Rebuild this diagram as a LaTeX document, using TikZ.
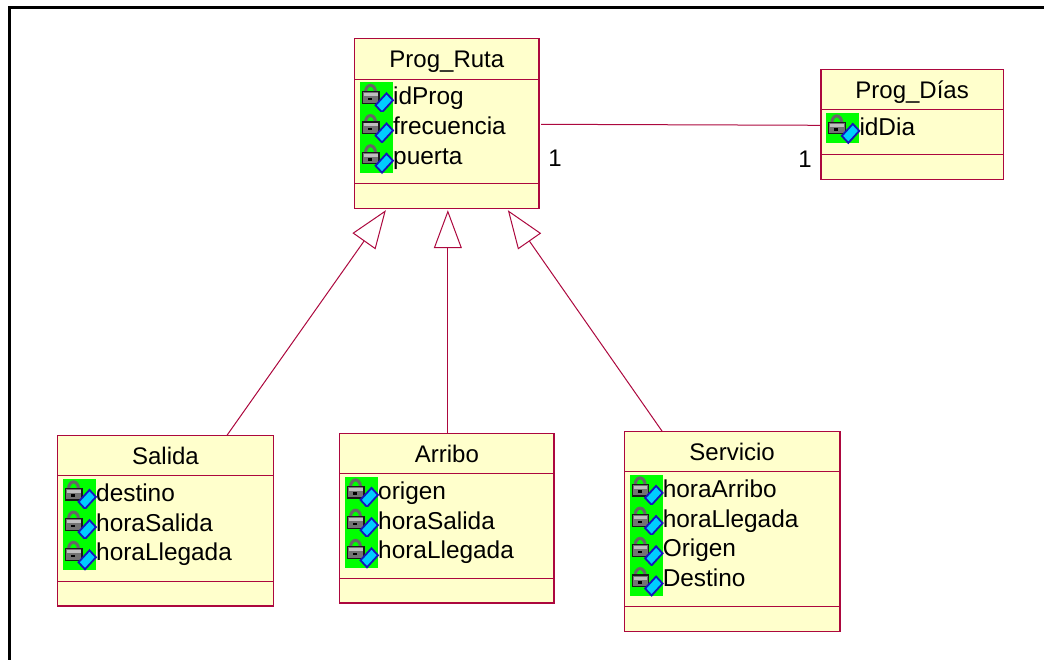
\documentclass[tikz,border=0pt]{standalone}
\usepackage{fontspec}
\setmainfont{Liberation Sans}
\usepackage{tikz}
\usetikzlibrary{arrows.meta,calc}
\definecolor{umlline}{RGB}{172,8,62}
\definecolor{umlfill}{RGB}{255,255,204}
\definecolor{keygreen}{RGB}{0,255,0}
\definecolor{keyblue}{RGB}{0,205,255}
\definecolor{keyedge}{RGB}{20,20,190}
\tikzstyle{classbox}=[draw=umlline,fill=umlfill,line width=1.1pt,inner sep=0pt,outer sep=0pt,anchor=north west]
\tikzstyle{classtitle}=[anchor=base,inner sep=0pt,font=\fontsize{24}{28}\selectfont]
\tikzstyle{attrkey}=[fill=keygreen,minimum width=33pt,minimum height=30.2pt,inner sep=0pt,outer sep=0pt,anchor=north west]
\tikzstyle{attrname}=[anchor=base west,inner sep=0pt,font=\fontsize{24.4}{28}\selectfont]
\tikzstyle{mult}=[inner sep=0pt,font=\fontsize{24}{28}\selectfont]
\tikzstyle{assoc}=[draw=umlline,line width=1pt]
\tikzstyle{inherit}=[draw=umlline,line width=1pt,-{Triangle[open,length=38pt,width=28pt,fill=white]}]
\tikzset{lockkey/.pic={
    \draw[black!60,line width=3pt] (5.5,10) arc (180:360:5 and 7);
    \fill[black!55,draw=black!90,line width=1.2pt] (2.5,9.5) rectangle (19,21);
    \fill[black!25] (4,11) rectangle (17.5,14);
    \fill[black] (8,15.5) rectangle (12,18);
    \draw[fill=keyblue,draw=keyedge,line width=1.8pt] (15.5,23) -- (22,30) -- (33,18) -- (26.5,11) -- cycle;
}}

\begin{document}
\begin{tikzpicture}[x=1pt,y=-1pt]
      \useasboundingbox (0,0) rectangle (1044,660);
      \draw[black,line width=3pt] (9.5,660) -- (9.5,7.5) -- (1044,7.5);

      \foreach \id/\nm/\x/\y/\w/\h in {ruta/Prog\_Ruta/354.7/38.7/184.3/170,
          dias/Prog\_Días/821/69.3/182.3/110,
          salida/Salida/57.7/435.3/215.6/170.7,
          arribo/Arribo/339.7/433.3/214.3/169.7,
          servicio/Servicio/624.3/431.3/215.7/200}{
        \node[classbox,minimum width=\w pt,minimum height=\h pt] (\id) at (\x,\y) {};
        \draw[umlline,line width=1pt] ([yshift=-40.5pt]\id.north west) -- ([yshift=-40.5pt]\id.north east);
        \draw[umlline,line width=1pt] ([yshift=25pt]\id.south west) -- ([yshift=25pt]\id.south east);
        \node[classtitle] (\id title) at ([yshift=-28.8pt]\id.north) {\nm};
      }

      \foreach \cls/\attrs in {ruta/{idProg,frecuencia,puerta},
          dias/{idDia},
          salida/{destino,horaSalida,horaLlegada},
          arribo/{origen,horaSalida,horaLlegada},
          servicio/{horaArribo,horaLlegada,Origen,Destino}}{
        \foreach \nm [count=\i] in \attrs {
          \node[attrkey] (\cls\i) at ([xshift=5.3pt,yshift={-43.6pt-30.2pt*(\i-1)}]\cls.north west) {};
          \pic at (\cls\i.north west) {lockkey};
          \node[attrname] (\cls\i name) at ([yshift={-22.5pt+0.5pt*(\i-1)}]\cls\i.north east) {\nm};
        }
      }

      \path[assoc] ([xshift=2pt,yshift=-0.6pt]ruta.east) edge ([yshift=-1pt]dias.west);
      \node[mult] (mruta) at (555,158) {1};
      \node[mult] (mdias) at (805,159) {1};

      \draw[inherit] ([xshift=61.5pt]salida.north) -- ([xshift=-61pt,yshift=-1.5pt]ruta.south);
      \draw[inherit] ([xshift=1pt]arribo.north) -- ([xshift=1pt,yshift=-1.5pt]ruta.south);
      \draw[inherit] ([xshift=-70pt]servicio.north) -- ([xshift=61pt,yshift=-1.5pt]ruta.south);
\end{tikzpicture}
\end{document}
